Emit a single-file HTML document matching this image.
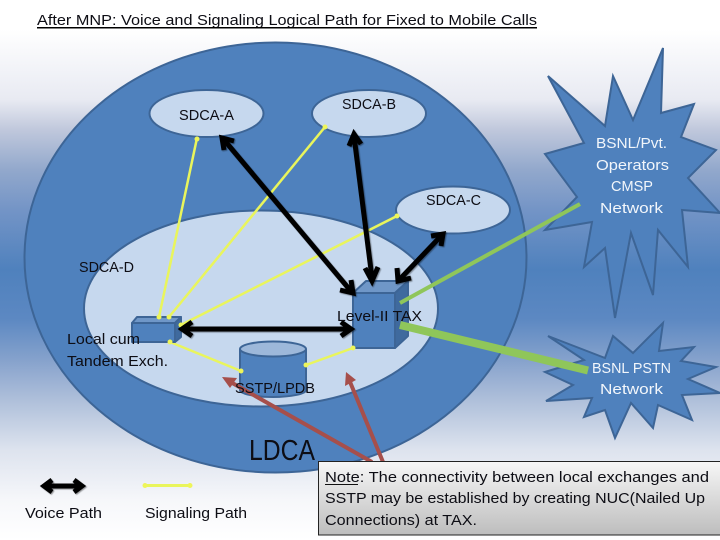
<!DOCTYPE html>
<html><head><meta charset="utf-8"><style>
html,body{margin:0;padding:0;width:720px;height:540px;overflow:hidden}
svg{display:block}
text{font-family:"Liberation Sans",sans-serif;font-size:15px;fill:#0d0d14}
.w{fill:#f2f6fb;font-size:14.5px}
</style></head><body>
<svg width="720" height="540" viewBox="0 0 720 540" xmlns="http://www.w3.org/2000/svg">
<defs>
<linearGradient id="bg" x1="0" y1="0" x2="0" y2="1">
<stop offset="0" stop-color="#ffffff"/><stop offset=".055" stop-color="#ffffff"/><stop offset=".185" stop-color="#e8eaf2"/><stop offset=".24" stop-color="#c0c8dc"/><stop offset=".315" stop-color="#92a8cc"/><stop offset=".39" stop-color="#7394c6"/><stop offset=".5" stop-color="#4f81bd"/><stop offset=".59" stop-color="#5c88c2"/><stop offset=".667" stop-color="#86a2cc"/><stop offset=".74" stop-color="#aebfda"/><stop offset=".833" stop-color="#dde3ee"/><stop offset=".926" stop-color="#f6f7fa"/><stop offset="1" stop-color="#ffffff"/>
</linearGradient>
<linearGradient id="nb" x1="0" y1="0" x2="0" y2="1"><stop offset="0" stop-color="#f7f7f7"/><stop offset="1" stop-color="#bdbdbd"/></linearGradient>
</defs>
<rect width="720" height="540" fill="url(#bg)"/>

<text x="37" y="25" textLength="500" lengthAdjust="spacingAndGlyphs">After MNP: Voice and Signaling Logical Path for Fixed to Mobile Calls</text>
<rect x="37" y="27" width="500" height="1.500" fill="#000"/>

<ellipse cx="275.500" cy="257.500" rx="251" ry="215" fill="#4f81bd" stroke="#3d6596" stroke-width="2"/>
<ellipse cx="261" cy="308.500" rx="177" ry="98" fill="#c6d8ee" stroke="#3d6596" stroke-width="2"/>
<ellipse cx="206.500" cy="113.500" rx="57" ry="23.500" fill="#c6d8ee" stroke="#3d6596" stroke-width="2"/>
<ellipse cx="369" cy="113.500" rx="57" ry="23.500" fill="#c6d8ee" stroke="#3d6596" stroke-width="2"/>
<ellipse cx="453" cy="210" rx="57" ry="23.500" fill="#c6d8ee" stroke="#3d6596" stroke-width="2"/>

<polygon fill="#4f81bd" stroke="#3d6596" stroke-width="2" points="663,48 661,113 694,104 681,137 716,150 688,178 720,213 682,210 688,267 658,230 653,295 631,233 615,318 605,248 584,267 592,222 545,230 577,197 545,154 584,143 548,76 605,126 613,76 633,120"/>
<polygon fill="#4f81bd" stroke="#3d6596" stroke-width="2" points="663,323 659,351 694,347 681,361 716,367 688,379 720,393 682,395 692,420 658,405 653,428 631,403 615,438 605,410 584,417 592,398 546,401 573,385 545,372 584,360 548,336 605,358 613,336 633,353"/>

<g stroke="#e9f55c" stroke-width="2.500" fill="#e9f55c">
<line x1="197" y1="138" x2="159" y2="317"/>
<line x1="325" y1="127" x2="169" y2="317"/>
<line x1="397" y1="216" x2="181" y2="325"/>
<line x1="170" y1="342" x2="241" y2="371"/>
<line x1="306" y1="365" x2="353" y2="348"/>
<line x1="145" y1="485.500" x2="190" y2="485.500" stroke-width="3"/>
</g>

<g fill="#4f81bd" stroke="#3d6596" stroke-width="2" stroke-linejoin="round">
<polygon points="353,293 395,293 395,348 353,348"/>
<polygon points="353,293 366,281 408,281 395,293" fill="#6f97c8"/>
<polygon points="395,293 408,281 408,336 395,348" fill="#3f6a9e"/>
<polygon points="132,323 175,323 175,342 132,342"/>
<polygon points="132,323 137,317 181,317 175,323" fill="#6f97c8"/>
<polygon points="175,323 181,317 181,337 175,342" fill="#3f6a9e"/>
<path d="M240,349 V390 A33,7 0 0 0 306,390 V349"/>
<ellipse cx="273" cy="349" rx="33" ry="7.500" fill="#9db8da"/>
</g>

<g fill="#eef55a">
<circle cx="197" cy="139" r="2.500"/><circle cx="325" cy="127" r="2.500"/><circle cx="397" cy="216" r="2.500"/>
<circle cx="170" cy="342" r="2.500"/><circle cx="241" cy="371" r="2.500"/><circle cx="306" cy="365" r="2.500"/><circle cx="353" cy="348" r="2.500"/>
<circle cx="159" cy="317" r="2.500"/><circle cx="169" cy="317" r="2.500"/><circle cx="181" cy="325" r="2.500"/>
<circle cx="145" cy="485.500" r="2.500"/><circle cx="190" cy="485.500" r="2.500"/>
</g>

<g stroke="#000" stroke-width="5" fill="none" stroke-linejoin="miter" style="filter:drop-shadow(1px 1.500px .5px rgba(0,0,0,.4))">
<line x1="225" y1="141" x2="350" y2="290"/>
<polyline points="224,150 222,138 234,141"/><polyline points="340,290 353,293 351,280"/>
<line x1="354" y1="136" x2="372" y2="278"/>
<polyline points="349,146 354,134 361,144"/><polyline points="365,268 372,281 378,267"/>
<line x1="441" y1="236" x2="400" y2="279"/>
<polyline points="431,236 443,234 441,246"/><polyline points="397,268 398,281 411,278"/>
<line x1="183" y1="329" x2="350" y2="329"/>
<polyline points="192,322 182,329 192,336"/><polyline points="341,322 351,329 341,336"/>
<line x1="46" y1="486" x2="80" y2="486"/>
<polyline points="52,480 44,486 52,492"/><polyline points="74,480 82,486 74,492"/>
</g>

<line x1="400" y1="303" x2="580" y2="204" stroke="#8fc65a" stroke-width="4"/>
<line x1="400" y1="325" x2="588" y2="370.500" stroke="#8fc65a" stroke-width="8"/>

<g stroke="#a64f4b" stroke-width="4" fill="none">
<line x1="227" y1="380" x2="372" y2="462"/>
<line x1="348" y1="377" x2="383" y2="462"/>
</g>
<polygon points="222,377 237,378 230,388" fill="#a64f4b"/>
<polygon points="346,372 356,380 345,386" fill="#a64f4b"/>

<text x="179" y="120" textLength="55" lengthAdjust="spacingAndGlyphs">SDCA-A</text>
<text x="342" y="109" textLength="54" lengthAdjust="spacingAndGlyphs">SDCA-B</text>
<text x="426" y="205" textLength="55" lengthAdjust="spacingAndGlyphs">SDCA-C</text>
<text x="79" y="272" textLength="55" lengthAdjust="spacingAndGlyphs">SDCA-D</text>
<text x="337" y="321" textLength="85" lengthAdjust="spacingAndGlyphs">Level-II TAX</text>
<text x="67" y="344" textLength="73" lengthAdjust="spacingAndGlyphs">Local cum</text>
<text x="67" y="366" textLength="101" lengthAdjust="spacingAndGlyphs">Tandem Exch.</text>
<text x="235" y="393" textLength="80" lengthAdjust="spacingAndGlyphs">SSTP/LPDB</text>
<text x="249" y="460" textLength="66" lengthAdjust="spacingAndGlyphs" style="font-size:29px">LDCA</text>
<text x="25" y="518" textLength="77" lengthAdjust="spacingAndGlyphs">Voice Path</text>
<text x="145" y="518" textLength="102" lengthAdjust="spacingAndGlyphs">Signaling Path</text>

<text class="w" x="596" y="148" textLength="71" lengthAdjust="spacingAndGlyphs">BSNL/Pvt.</text>
<text class="w" x="596" y="170" textLength="73" lengthAdjust="spacingAndGlyphs">Operators</text>
<text class="w" x="611" y="191" textLength="42" lengthAdjust="spacingAndGlyphs">CMSP</text>
<text class="w" x="600" y="213" textLength="63" lengthAdjust="spacingAndGlyphs">Network</text>
<text class="w" x="592" y="373" textLength="79" lengthAdjust="spacingAndGlyphs">BSNL PSTN</text>
<text class="w" x="600" y="394" textLength="63" lengthAdjust="spacingAndGlyphs">Network</text>

<rect x="318.500" y="461.500" width="402" height="73.500" fill="url(#nb)" stroke="#222" stroke-width="1"/>
<text x="325" y="482" textLength="384" lengthAdjust="spacingAndGlyphs">Note: The connectivity between local exchanges and</text>
<rect x="325" y="484" width="33" height="1" fill="#111"/>
<text x="325" y="503" textLength="380" lengthAdjust="spacingAndGlyphs">SSTP may be established by creating NUC(Nailed Up</text>
<text x="325" y="525" textLength="152" lengthAdjust="spacingAndGlyphs">Connections) at TAX.</text>
</svg>
</body></html>
